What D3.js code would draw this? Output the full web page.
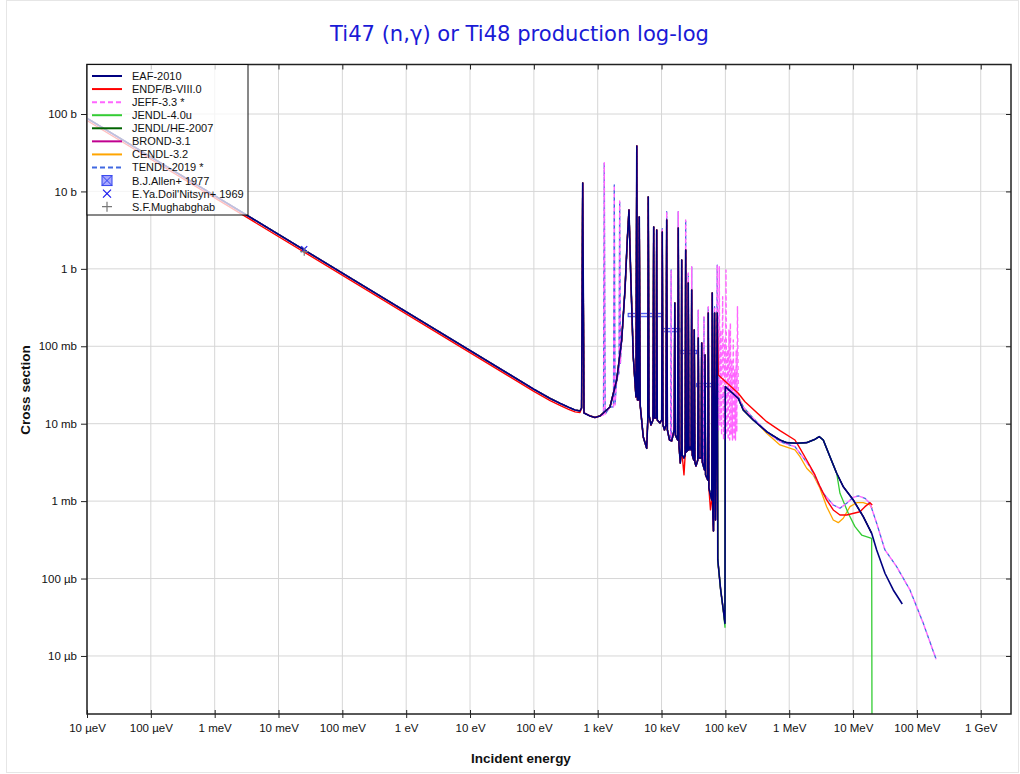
<!DOCTYPE html>
<html><head><meta charset="utf-8">
<script src="https://cdn.jsdelivr.net/npm/d3@7"></script>
<style>
body{margin:0;background:#fff;}
svg{display:block;}
text{font-family:"Liberation Sans",Arial,Helvetica,sans-serif;}
</style>
</head><body>
<svg id="chart" width="1020" height="774"></svg>
<script>
// ---------- axis ticks ----------
const xTickValues = [1e-5,1e-4,1e-3,1e-2,1e-1,1,10,100,1e3,1e4,1e5,1e6,1e7,1e8,1e9];
const xTickLabels = ["10 µeV","100 µeV","1 meV","10 meV","100 meV","1 eV","10 eV","100 eV","1 keV","10 keV","100 keV","1 MeV","10 MeV","100 MeV","1 GeV"];
const yTickValues = [1e-5,1e-4,1e-3,1e-2,1e-1,1,10,100];
const yTickLabels = ["10 µb","100 µb","1 mb","10 mb","100 mb","1 b","10 b","100 b"];
const xDomain = [1e-5, 2.98e9];   // eV
const yDomain = [1.78e-6, 436];   // barns

// ---------- data: [energy eV, cross section b] ----------
const lowLineEAF  = [[1e-5,88],[100,0.0279],[180,0.0212],[256,0.01835],[350,0.0163]];
const lowLineENDF = [[1e-5,82.5],[100,0.0262],[180,0.0199],[256,0.0172],[350,0.0153],[441,0.0142],[528,0.0139]];

const resCommon = [
[441,0.01504],[528,0.0146],[559,0.01596],[582,12.85],[610,0.01375],[757,0.01258],[906,0.01203],[1086,0.01258],
[1557,0.01644],[1983,0.0367],[2375,0.1206],[2675,0.533],[2906,2.36],[3090,5.76],[3285,0.884],[3609,0.0734],
[3978,0.02214],[4095,38.6],[4200,0.02024],[4370,0.02024],[4481,4.68],[4629,0.01744],[5174,0.00674],[5852,0.00481],
[6088,0.01117],[6198,8.48],[6357,0.01296],[6832,0.00962],[7343,0.01117],[7531,3.47],[7722,0.01185],[8241,0.01185],
[8392,3.18],[8576,0.01117],[9454,0.01022],[10050,0.01117],[10270,2.99],[10530,0.00962],[11120,0.0083],[11740,0.00962],
[12040,4.28],[12350,0.0083],[13320,0.00616],[14410,0.00598],[15780,0.0083],[16130,0.362],[16480,0.00715],[17840,0.00616],
[18290,3.37],[18760,0.00531],[19660,0.00311],[20380,0.00458],[20680,1.30],[21050,0.00394],[22460,0.0036],[23460,0.00394],
[23880,1.75],[24400,0.00431],[25760,0.00458],[26230,0.657],[26800,0.00458],[27890,0.005],[29120,0.00458],[29660,0.533],
[30300,0.00394],[31990,0.0034],[32570,0.1623],[33280,0.0032],[34630,0.00284],[36950,0.0034],[37620,0.128],[38440,0.00361],
[41780,0.00361],[42540,0.1103],[43470,0.0032],[47060,0.00253],[47920,0.0772],[48970,0.00218],[53010,0.001875],[53980,0.269],
[55160,0.001478],[58430,0.0012],[61240,0.001035],[62350,0.488],[63710,0.000662],[65110,0.000412],[67730,0.269],[69960,0.000571],
[74670,0.269]
];

const eafTail = [
[76040,0.000174],[84410,7.12e-5],[92700,3.93e-5],[98560,2.64e-5],[99630,0.0301],[159200,0.02129],[190700,0.01504],
[273500,0.01117],[443700,0.00788],[716700,0.00616],[912500,0.00569],[1.309e6,0.00559],[1.877e6,0.00569],[2.533e6,0.00629],
[2.958e6,0.0068],[3.416e6,0.00616],[4.350e6,0.00375],[5.539e6,0.00229],[7.028e6,0.001537],[1.008e7,0.001035],[1.446e7,0.00063],
[1.957e7,0.000384],[2.344e7,0.000234],[3.162e7,0.000117],[4.266e7,7.12e-5],[5.902e7,4.69e-5]
];

const endfOverrides = [[22460,0.00218],[58430,0.00077]];
const endfTail = [
[77400,0.0426],[159200,0.0247],[202800,0.01924],[443700,0.01062],[716700,0.00812],[1.231e6,0.00616],[1.475e6,0.00481],
[1.877e6,0.0034],[2.533e6,0.00218],[3.032e6,0.001537],[3.862e6,0.001035],[4.900e6,0.000769],[6.240e6,0.000662],
[7.943e6,0.000662],[1.284e7,0.00073],[1.537e7,0.000848],[1.841e7,0.000954],[2.0e7,0.000892]
];

const cendlTail = [
[159200,0.02214],[202800,0.01504],[443700,0.00752],[716700,0.00531],[1.231e6,0.00458],[1.475e6,0.00375],[1.877e6,0.002656],
[2.382e6,0.00218],[3.032e6,0.001465],[3.862e6,0.000848],[4.900e6,0.000571],[5.868e6,0.000527],[7.028e6,0.0006],
[8.948e6,0.000848],[1.140e7,0.000954],[1.446e7,0.000954],[1.841e7,0.000892],[2.0e7,0.000809]
];

const jeffExtra = [
[1232,0.0130],[1268,23.5],[1310,0.0133],[1767,0.0165],[1818,12.1],[1872,0.0175],[2154,0.045],[2209,7.52],[2266,0.06],
[13900,0.0065],[14150,0.967],[14300,0.0061],[45500,0.0028],[46200,0.241],[46700,0.0026]
];
const jeffOverrides = [[10270,3.3],[12040,5.47],[18290,5.47],[23880,4.28],[26230,0.884],[29660,1.066],[37620,0.294],[53980,0.325],[67730,0.325],[74670,1.12]];
const jeffForest = [
[77960,0.0083],[80240,1.066],[82300,0.00962],[84700,0.1623],[87170,0.00715],[90720,0.437],[93720,0.00616],[96450,0.1206],
[99290,0.00654],[102200,0.967],[105200,0.00715],[107900,0.0896],[110600,0.00616],[113900,0.1623],[116800,0.00616],
[119800,0.2],[122800,0.00715],[126000,0.0665],[129200,0.00616],[133000,0.1206],[136900,0.00654],[140400,0.0494],
[144000,0.00616],[147700,0.0896],[150900,0.00782],[154700,0.3246]
];
const tendlBridge = [[76500,0.02],[120000,0.026]];
const jeffTail = [
[159200,0.02214],[190700,0.01644],[273500,0.01175],[443700,0.00788],[716700,0.00586],[1.231e6,0.00505],[1.475e6,0.00415],
[2.115e6,0.002786],[2.694e6,0.001875],[3.416e6,0.001263],[4.900e6,0.000892],[6.240e6,0.000809],[7.943e6,0.000938],
[1.008e7,0.00112],[1.208e7,0.001165],[1.537e7,0.001088],[1.841e7,0.000938],[2.344e7,0.000517],[3.162e7,0.000234],
[4.824e7,0.000142],[7.791e7,7.12e-5],[1.259e8,2.64e-5],[2.0e8,9.07e-6]
];

const jendl4Overrides = [[98560,2.35e-5]];
const jendl4Tail = [[6.240e6,0.001263],[8.418e6,0.000697],[1.072e7,0.000468],[1.365e7,0.000365],[1.957e7,0.000331],[2.0e7,1e-8]];

// experimental data
const allenLo  = [3000, 10000, 19450, 35500];
const allenHi  = [10000, 19450, 35500, 73000];
const allenSig = [0.2536, 0.162, 0.0844, 0.0316];
const doilE = [0.0253], doilSig = [1.80];
const mughE = [0.0253], mughSig = [1.666];

// ---------- build series tables ----------
function build(parts, overrides){
  let pts = [].concat(...parts).map(d=>[d[0],d[1]]);
  if (overrides){ const m=new Map(overrides); pts.forEach(p=>{ if(m.has(p[0])) p[1]=m.get(p[0]); }); }
  return pts.sort((a,b)=>a[0]-b[0]);
}
const upTo = (arr, e) => arr.filter(d=>d[0]<=e);
const from = (arr, e) => arr.filter(d=>d[0]>=e);

const series = [
  {name:"EAF-2010",      color:"#000080", dash:null,  w:1.6, data: build([lowLineEAF, resCommon, eafTail])},
  {name:"ENDF/B-VIII.0", color:"#ff0000", dash:null,  w:1.4, data: build([lowLineENDF, from(resCommon,559), endfTail], endfOverrides)},
  {name:"JEFF-3.3 *",    color:"#ff66ff", dash:"4,3", w:1.4, data: build([lowLineEAF, upTo(resCommon,74670), jeffExtra, jeffForest, jeffTail], jeffOverrides)},
  {name:"JENDL-4.0u",    color:"#33cc33", dash:null,  w:1.3, data: build([lowLineEAF, resCommon, upTo(eafTail,5.539e6), jendl4Tail], jendl4Overrides)},
  {name:"JENDL/HE-2007", color:"#006400", dash:null,  w:1.3, data: build([lowLineEAF, resCommon, upTo(eafTail,1.957e7)])},
  {name:"BROND-3.1",     color:"#c0008f", dash:null,  w:1.3, data: build([lowLineEAF, resCommon, upTo(eafTail,1.957e7)])},
  {name:"CENDL-3.2",     color:"#ffa500", dash:null,  w:1.3, data: build([lowLineEAF, resCommon, upTo(eafTail,99630), cendlTail])},
  {name:"TENDL-2019 *",  color:"#4169e1", dash:"4,3", w:1.3, data: build([lowLineEAF, upTo(resCommon,74670), jeffExtra, tendlBridge, jeffTail], jeffOverrides)}
];
const drawOrder = ["BROND-3.1","JENDL/HE-2007","CENDL-3.2","JENDL-4.0u","TENDL-2019 *","JEFF-3.3 *","ENDF/B-VIII.0","EAF-2010"];

// ---------- chart ----------
const svg = d3.select("#chart");
const L=87, R=1011, T=64.5, B=714;
const x = d3.scaleLog().domain(xDomain).range([L,R]);
const y = d3.scaleLog().domain(yDomain).range([B,T]);

svg.append("rect").attr("x",6.5).attr("y",0.5).attr("width",1012).attr("height",772)
  .attr("fill","#fff").attr("stroke","#e6e6e6");

// title (width fitted to the reference's title span)
const title = svg.append("text").attr("x",519.5).attr("y",41).attr("text-anchor","middle")
  .attr("font-size",20).attr("fill","#1a1ad6").style("font-family","'DejaVu Sans',Verdana,sans-serif")
  .text("Ti47 (n,γ) or Ti48 production log-log");
const tw = title.node().getComputedTextLength();
title.attr("font-size", 20*379/tw);

// grid
const grid = svg.append("g").attr("stroke","#d6d6d6").attr("stroke-width",1);
grid.selectAll("line.v").data(xTickValues).join("line")
  .attr("x1",d=>x(d)).attr("x2",d=>x(d)).attr("y1",T).attr("y2",B);
grid.selectAll("line.h").data(yTickValues).join("line")
  .attr("x1",L).attr("x2",R).attr("y1",d=>y(d)).attr("y2",d=>y(d));

// clip
svg.append("clipPath").attr("id","plotclip").append("rect")
  .attr("x",L).attr("y",T).attr("width",R-L).attr("height",B-T);
const plot = svg.append("g").attr("clip-path","url(#plotclip)");

// Allen error boxes
plot.selectAll("rect.allen").data(allenSig).join("rect")
  .attr("x",(d,i)=>x(allenLo[i])).attr("width",(d,i)=>x(allenHi[i])-x(allenLo[i]))
  .attr("y",d=>y(d*1.05)).attr("height",d=>y(d*0.95)-y(d*1.05))
  .attr("fill","rgba(120,120,255,0.25)").attr("stroke","#3344ee").attr("stroke-width",1);

// lines
const line = d3.line().x(d=>x(d[0])).y(d=>y(Math.max(d[1],1e-9)));
drawOrder.forEach(n=>{
  const s = series.find(s=>s.name===n);
  const p = plot.append("path").datum(s.data).attr("d",line)
    .attr("fill","none").attr("stroke",s.color).attr("stroke-width",s.w)
    .attr("stroke-linejoin","round");
  if (s.dash){ p.attr("stroke-dasharray",s.dash); if(n==="TENDL-2019 *") p.attr("stroke-dashoffset",3.5); }
});

// markers
plot.selectAll("path.doil").data(doilSig).join("path")
  .attr("d",(d,i)=>{const cx=x(doilE[i]),cy=y(d);return `M${cx-3},${cy-3}L${cx+3},${cy+3}M${cx-3},${cy+3}L${cx+3},${cy-3}`;})
  .attr("stroke","#1a1aee").attr("stroke-width",1.2);
plot.selectAll("path.mugh").data(mughSig).join("path")
  .attr("d",(d,i)=>{const cx=x(mughE[i]),cy=y(d);return `M${cx-4},${cy}L${cx+4},${cy}M${cx},${cy-4}L${cx},${cy+4}`;})
  .attr("stroke","#777").attr("stroke-width",1.2);

// axes
const fmtX=(d)=>xTickLabels[xTickValues.indexOf(d)];
const fmtY=(d)=>yTickLabels[yTickValues.indexOf(d)];
const gxb = svg.append("g").attr("transform",`translate(0,${B})`)
  .call(d3.axisBottom(x).tickValues(xTickValues).tickFormat(fmtX).tickSize(4).tickSizeOuter(0).tickPadding(6));
const gxbi = svg.append("g").attr("transform",`translate(0,${B})`)
  .call(d3.axisTop(x).tickValues(xTickValues).tickFormat("").tickSize(4).tickSizeOuter(0));
const gxt = svg.append("g").attr("transform",`translate(0,${T})`)
  .call(d3.axisBottom(x).tickValues(xTickValues).tickFormat("").tickSize(5).tickSizeOuter(0));
const gyl = svg.append("g").attr("transform",`translate(${L},0)`)
  .call(d3.axisLeft(y).tickValues(yTickValues).tickFormat(fmtY).tickSize(6).tickSizeOuter(0).tickPadding(4));
const gyr = svg.append("g").attr("transform",`translate(${R},0)`)
  .call(d3.axisLeft(y).tickValues(yTickValues).tickFormat("").tickSize(5).tickSizeOuter(0));
[gxb,gxbi,gxt,gyl,gyr].forEach(g=>{
  g.select(".domain").remove();
  g.selectAll(".tick line").attr("stroke","#222");
  g.selectAll("text").attr("font-size",11.5).attr("fill","#111")
   .attr("font-family","'Liberation Sans',Arial,sans-serif");
});

// frame
svg.append("rect").attr("x",L).attr("y",T).attr("width",R-L).attr("height",B-T)
  .attr("fill","none").attr("stroke","#222").attr("stroke-width",1.5);

// axis titles
svg.append("text").attr("x",521).attr("y",763).attr("text-anchor","middle")
  .attr("font-size",13.5).attr("font-weight","bold").attr("fill","#111").text("Incident energy");
svg.append("text").attr("transform","translate(30,390) rotate(-90)").attr("text-anchor","middle")
  .attr("font-size",13.5).attr("font-weight","bold").attr("fill","#111").text("Cross section");

// legend
const leg = svg.append("g");
leg.append("rect").attr("x",L).attr("y",T).attr("width",161).attr("height",150.5)
  .attr("fill","rgba(255,255,255,0.75)").attr("stroke","#111").attr("stroke-width",1);
const rowY = i => 76 + i*13.07;
series.forEach((s,i)=>{
  const l = leg.append("line").attr("x1",92).attr("x2",122).attr("y1",rowY(i)).attr("y2",rowY(i))
    .attr("stroke",s.color).attr("stroke-width",2);
  if (s.dash) l.attr("stroke-dasharray","5,3");
  leg.append("text").attr("x",132).attr("y",rowY(i)+4).attr("font-size",11).attr("fill","#111").text(s.name);
});
const expNames = ["B.J.Allen+ 1977","E.Ya.Doil'Nitsyn+ 1969","S.F.Mughabghab"];
expNames.forEach((n,j)=>{
  const i = series.length + j, cy = rowY(i), cx = 107;
  if (j===0){
    leg.append("rect").attr("x",cx-5).attr("y",cy-5).attr("width",10).attr("height",10)
      .attr("fill","#a8a8ff").attr("stroke","#3344ee");
    leg.append("path").attr("d",`M${cx-5},${cy-5}L${cx+5},${cy+5}M${cx-5},${cy+5}L${cx+5},${cy-5}`).attr("stroke","#3344ee");
  } else if (j===1){
    leg.append("path").attr("d",`M${cx-4},${cy-4}L${cx+4},${cy+4}M${cx-4},${cy+4}L${cx+4},${cy-4}`).attr("stroke","#1a1aee").attr("stroke-width",1.2);
  } else {
    leg.append("path").attr("d",`M${cx-5},${cy}L${cx+5},${cy}M${cx},${cy-5}L${cx},${cy+5}`).attr("stroke","#777").attr("stroke-width",1.2);
  }
  leg.append("text").attr("x",132).attr("y",cy+4).attr("font-size",11).attr("fill","#111").text(n);
});
</script>
</body></html>
